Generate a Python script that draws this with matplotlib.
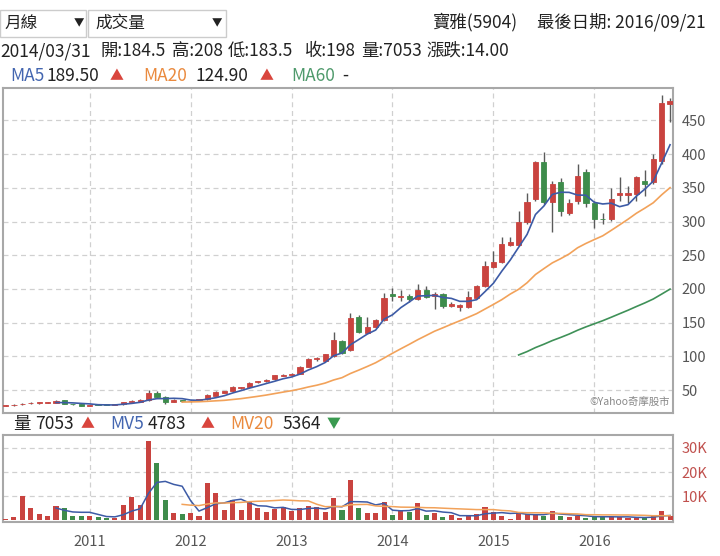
import numpy as np
import pandas as pd
import matplotlib
matplotlib.use("Agg")
import matplotlib.pyplot as plt
from matplotlib.patches import Rectangle
from matplotlib.ticker import FuncFormatter

plt.rcParams['font.family'] = ['Noto Sans CJK TC', 'DejaVu Sans']

# monthly candles, 2010/02 .. 2016/09
months = pd.date_range('2010-02-01', '2016-09-01', freq='MS')

opens = [26.5, 27.5, 29, 30.5, 31, 31, 31.5, 35, 29.5, 29,
         27, 28.5, 28.5, 28, 28.7, 32.5, 33, 35, 45, 40,
         33, 35.5, 33.5, 34.5, 36.5, 41, 46, 48, 53, 54.5,
         61.5, 63, 66, 71.5, 72.5, 74.5, 84, 96, 93, 100,
         123, 109, 159, 135, 143, 154, 192, 188, 189, 184.5,
         198, 189, 192, 175, 173, 173, 186, 204, 232, 240,
         265, 265, 299, 333, 388, 329, 358, 313, 330, 373,
         328, 304, 303, 340, 340, 341, 360, 358, 389, 474]
highs = [28, 29, 31, 32, 32, 32.5, 36, 36, 30, 29.5,
         28.5, 29, 29, 29.5, 33, 36, 37, 50, 48.5, 41,
         37, 36, 35, 37, 43.5, 48, 49, 56, 55, 62,
         64, 66.5, 73, 73.5, 75, 86, 97.5, 99, 104, 136,
         125, 164, 161, 158, 156, 194, 201, 198, 192, 208,
         205, 196, 194, 180, 178, 197, 206, 241, 256, 277,
         277, 315, 342, 390, 403, 360, 364, 333, 385, 378,
         330, 312, 350, 366, 352, 367, 376, 400, 488, 483]
lows = [26, 27, 28.5, 30, 30, 30.5, 31, 29, 28, 26.5,
        26.5, 27.5, 27.5, 27.5, 28.5, 32, 32.5, 34.5, 38, 29,
        32, 33, 33, 34, 36, 40.5, 45.5, 47.5, 52, 54,
        61, 62.5, 65.5, 70.5, 72, 74, 83.5, 93, 92.5, 99,
        103, 108, 134, 134, 142, 153, 182, 182, 180, 183.5,
        187, 170, 172, 173, 167, 172, 185, 203, 231, 238,
        263, 263, 297, 330, 326, 284, 308, 309, 326, 322,
        291, 296, 301, 331, 328, 331, 338, 355, 385, 448]
closes = [27, 28, 30, 31, 31, 31.5, 34, 29.5, 29, 27,
          28, 28, 28, 28.7, 32.5, 34, 36, 45, 39, 33,
          36, 33.5, 34.5, 36.5, 42.5, 46.5, 48, 55, 54, 61,
          63, 65.5, 72, 72.5, 74, 84.5, 96, 97, 103, 124,
          105, 157, 136, 143, 154, 186, 189, 189.5, 185, 198,
          188, 192, 174, 178, 176, 188, 204, 234, 240, 266,
          270, 299, 329, 388, 329, 356, 315, 328, 368, 328,
          303, 303, 334, 342, 343, 366, 355, 393, 476, 479]
volumes = [300, 1400, 10000, 5100, 2500, 1800, 5800, 5100, 1700, 1800,
           1800, 1400, 700, 1000, 6200, 9400, 6200, 33000, 23600, 8300,
           3100, 2400, 3100, 1800, 15600, 11100, 4200, 8300, 4200, 7900,
           5200, 3500, 4600, 5300, 3600, 5000, 5700, 5300, 3500, 9000,
           4100, 16500, 5100, 2900, 2900, 7500, 2200, 3800, 3400, 7053,
           2200, 2800, 1200, 2100, 900, 2100, 2700, 5300, 3500, 1900,
           400, 3500, 2700, 2700, 1900, 3700, 1600, 1300, 1600, 800,
           1900, 1300, 1300, 1300, 900, 900, 900, 2100, 3700, 1900]

price_ticks = [50, 100, 150, 200, 250, 300, 350, 400, 450]
vol_ticks = [10000, 20000, 30000]
ma_start = 2  # moving averages start from this month

RED = '#c9433f'
GREEN = '#3e8c4b'
BLUE = '#3d5ba6'
ORANGE = '#f2a25a'
MGREEN = '#3f9158'

W, H = 720, 556


def fx(px):
    return px / W


def fy(py):
    return 1 - py / H


x = np.arange(len(months))
o = np.array(opens)
c = np.array(closes)
up = c >= o
cols = np.where(up, RED, GREEN)
dec = x[months.month == 12]
year_labels = [str(m.year + 1) for m in months[months.month == 12]]

fig = plt.figure(figsize=(7.2, 5.56), dpi=100)
ax = fig.add_axes([fx(3), fy(413), fx(673) - fx(3), fy(88) - fy(413)])
axv = fig.add_axes([fx(3), fy(522), fx(673) - fx(3), fy(435) - fy(522)])

for a in (ax, axv):
    a.set_xlim(-0.3, 79.35)
    a.set_xticks(dec)
    a.grid(True, color='#d0d0d0', linestyle=(0, (4, 3)), linewidth=0.9)
    a.set_axisbelow(True)
    a.yaxis.tick_right()
    a.tick_params(length=0, labelsize=10.5, labelcolor='#555555', pad=6)
    for s in a.spines.values():
        s.set_color('#a8a8a8')
        s.set_linewidth(1.5)

# candles
ax.vlines(x, lows, highs, color='#5a5a5a', linewidth=1, zorder=2)
body = np.maximum(np.abs(c - o), 0.8)
ax.bar(x, body, bottom=np.minimum(o, c), width=0.62, color=cols,
       edgecolor=cols, linewidth=0.6, zorder=3)

cs = pd.Series(closes[ma_start:])
xs = x[ma_start:]
ax.plot(xs, cs.rolling(5).mean(), color=BLUE, lw=1.2, zorder=4)
ax.plot(xs, cs.rolling(20).mean(), color=ORANGE, lw=1.2, zorder=4)
ax.plot(xs, cs.rolling(60).mean(), color=MGREEN, lw=1.2, zorder=4)

ax.set_ylim(16, 498)
ax.set_yticks(price_ticks)
ax.set_xticklabels([])
ax.text(0.995, 0.02, '©Yahoo奇摩股市', transform=ax.transAxes, ha='right',
        va='bottom', fontsize=7.5, color='#888888')

# volume
axv.bar(x, volumes, width=0.6, color=cols, zorder=3)
vs = pd.Series(volumes[ma_start:])
axv.plot(xs, vs.rolling(5).mean(), color=BLUE, lw=1.1, zorder=4)
axv.plot(xs, vs.rolling(20).mean(), color=ORANGE, lw=1.1, zorder=4)
axv.set_ylim(-800, 35400)
axv.set_yticks(vol_ticks)
axv.yaxis.set_major_formatter(FuncFormatter(lambda v, p: '%dK' % (v / 1000)))
axv.tick_params(axis='y', labelcolor='#c0504d')
axv.set_xticklabels(year_labels)
axv.tick_params(axis='x', pad=9)

# header
TXT = '#222222'
fs = 12.5
tri = 10
fig.patches.append(Rectangle((fx(0), fy(37)), fx(86), 27 / H, transform=fig.transFigure,
                             facecolor='white', edgecolor='#cccccc', lw=1))
fig.patches.append(Rectangle((fx(88), fy(37)), fx(138), 27 / H, transform=fig.transFigure,
                             facecolor='white', edgecolor='#cccccc', lw=1))
fig.text(fx(4), fy(23), '月線', fontsize=12, color=TXT, va='center', fontweight='light')
fig.text(fx(74), fy(23), '▼', fontsize=7.5, color=TXT, va='center')
fig.text(fx(95), fy(23), '成交量', fontsize=12, color=TXT, va='center', fontweight='light')
fig.text(fx(212), fy(23), '▼', fontsize=7.5, color=TXT, va='center')
fig.text(fx(432), fy(22), '寶雅(5904)', fontsize=fs, color=TXT, va='center', fontweight='light')
fig.text(fx(537), fy(22), '最後日期: 2016/09/21', fontsize=fs, color=TXT, va='center',
         fontweight='light')

row2 = [(0, '2014/03/31'), (100, '開:184.5'), (172, '高:208'), (228, '低:183.5'),
        (305, '收:198'), (361, '量:7053'), (426, '漲跌:14.00')]
for px, s in row2:
    fig.text(fx(px), fy(51), s, fontsize=fs, color=TXT, va='center', fontweight='light')

row3 = [(10, 'MA5', '#4466b0', fs), (47, '189.50', TXT, fs), (110, '▲', '#d9453d', tri),
        (143, 'MA20', '#ea8a3e', fs), (196, '124.90', TXT, fs), (260, '▲', '#d9453d', tri),
        (291, 'MA60', '#4f9a6c', fs), (342, '-', TXT, fs)]
for px, s, col, size in row3:
    fig.text(fx(px), fy(76), s, fontsize=size, color=col, va='center', fontweight='light')

row4 = [(13, '量', TXT, fs), (35, '7053', TXT, fs), (81, '▲', '#d9453d', tri),
        (110, 'MV5', '#4466b0', fs), (148, '4783', TXT, fs), (201, '▲', '#d9453d', tri),
        (230, 'MV20', '#ea8a3e', fs), (282, '5364', TXT, fs), (327, '▼', '#3a9a50', tri)]
for px, s, col, size in row4:
    fig.text(fx(px), fy(424), s, fontsize=size, color=col, va='center', fontweight='light')

fig.savefig('out.png', dpi=100)
